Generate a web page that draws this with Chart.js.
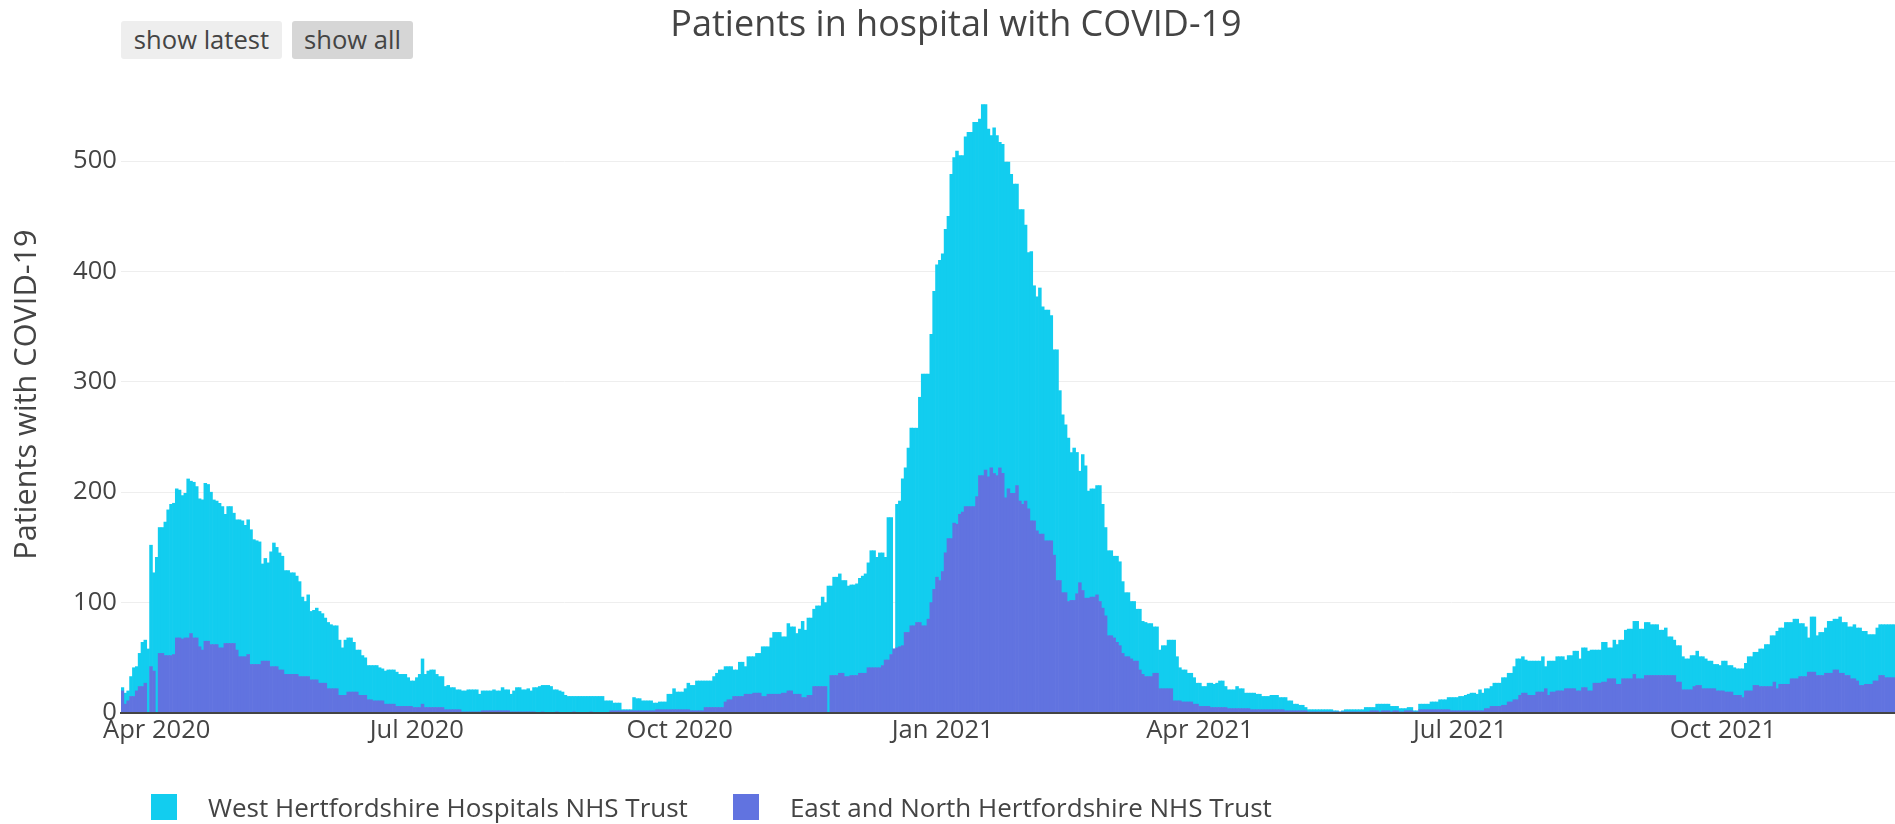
<!DOCTYPE html>
<html lang="en">
<head>
<meta charset="utf-8">
<title>Patients in hospital with COVID-19</title>
<script src="https://cdn.jsdelivr.net/npm/chart.js@4.4.1/dist/chart.umd.min.js"></script>
<style>
    html, body { margin: 0; padding: 0; background: #fff; }
    body { font-family: 'Open Sans', sans-serif; color: #444; }
    #wrap { position: relative; width: 1895px; height: 824px; overflow: hidden; }
    #chart-box { position: absolute; left: 0; top: 0; width: 1895px; height: 824px; }

    .menu-btn {
        position: absolute; top: 21px; height: 38px; padding: 0; border: none;
        border-radius: 3px; font: 25.6px 'Open Sans', sans-serif; line-height: 38px;
        color: #444; background: #eeeeee; cursor: pointer;
    }
    .menu-btn.active { background: #d6d6d6; }

    #title {
        position: absolute; top: 1px; left: 956px; transform: translateX(-50%);
        font-size: 36px; line-height: 44px; white-space: nowrap; color: #444;
    }

    #legend {
        position: absolute; left: 151px; top: 794px; height: 26px;
        display: flex; align-items: center; font-size: 26px; line-height: 26px;
        white-space: nowrap;
    }
    .legend-item { display: flex; align-items: center; margin-right: 45px; }
    .legend-swatch { width: 26px; height: 26px; margin-right: 31px; }
</style>
</head>
<body>
<div id="wrap">
    <div id="chart-box"><canvas id="hospitalChart"></canvas></div>
    <button class="menu-btn" style="left:121px;width:161px">show latest</button>
    <button class="menu-btn active" style="left:292px;width:121px">show all</button>
    <div id="title">Patients in hospital with COVID-19</div>
    <div id="legend"></div>
</div>

<script>
// =========================================================
// DATA (one bar per day, first bar = 20 Mar 2020)
// =========================================================

const eastNorth = [
    // Mar 2020 (20th-31st)
    20, 8, 11, 15, 15, 20, 24, 24, 27, 0, 42, 38,
    // Apr 2020
    0, 54, 54, 52, 52, 52, 53, 68, 68, 67, 68, 68, 72, 68, 68, 60, 57, 65, 65, 62, 62, 62, 59, 59, 63, 63, 63, 63, 57, 51,
    // May 2020
    51, 51, 53, 44, 44, 44, 44, 47, 47, 47, 42, 42, 42, 39, 39, 35, 35, 35, 35, 35, 33, 33, 33, 33, 30, 30, 30, 27, 27, 27, 22,
    // Jun 2020
    22, 22, 22, 16, 16, 16, 19, 19, 19, 19, 16, 16, 16, 12, 12, 11, 11, 11, 11, 8, 8, 8, 8, 6, 6, 6, 6, 6, 6, 5,
    // Jul 2020
    5, 5, 8, 5, 5, 5, 5, 5, 5, 5, 3, 3, 3, 3, 3, 3, 1, 1, 1, 1, 1, 1, 1, 2, 2, 2, 2, 2, 2, 2, 2,
    // Aug 2020
    2, 2, 1, 1, 1, 1, 1, 1, 1, 1, 1, 0, 0, 1, 0, 0, 0, 0, 1, 0, 0, 0, 0, 0, 1, 0, 0, 0, 0, 0, 1,
    // Sep 2020
    0, 0, 0, 0, 0, 0, 2, 2, 2, 2, 2, 2, 2, 2, 2, 2, 2, 2, 2, 2, 2, 2, 3, 3, 3, 3, 3, 3, 3, 3,
    // Oct 2020
    3, 3, 3, 3, 2, 2, 2, 2, 2, 5, 5, 5, 5, 5, 5, 5, 10, 12, 12, 15, 15, 15, 15, 17, 17, 17, 18, 18, 18, 15, 15,
    // Nov 2020
    17, 17, 17, 17, 17, 18, 18, 20, 20, 17, 17, 17, 14, 14, 16, 16, 24, 24, 24, 24, 24, 0, 34, 34, 34, 36, 36, 33, 33, 34,
    // Dec 2020
    34, 34, 36, 36, 36, 41, 41, 41, 41, 41, 43, 48, 48, 53, 58, 59, 60, 61, 73, 73, 79, 79, 82, 82, 79, 79, 85, 100, 112, 123, 120,
    // Jan 2021
    128, 145, 158, 158, 172, 171, 180, 182, 187, 187, 187, 187, 196, 215, 215, 220, 214, 222, 217, 215, 222, 217, 195, 203, 199, 199, 206, 192, 189, 192, 185,
    // Feb 2021
    174, 174, 165, 162, 162, 156, 156, 156, 143, 120, 120, 109, 109, 101, 102, 102, 108, 118, 111, 104, 104, 105, 105, 107, 101, 95, 88, 70,
    // Mar 2021
    70, 68, 64, 61, 54, 51, 51, 49, 47, 47, 39, 35, 33, 33, 33, 36, 36, 22, 22, 22, 22, 22, 11, 11, 11, 10, 10, 10, 10, 8, 8,
    // Apr 2021
    6, 6, 6, 6, 5, 5, 5, 5, 5, 5, 4, 4, 4, 4, 4, 4, 4, 4, 3, 3, 3, 3, 3, 3, 3, 3, 3, 3, 3, 3,
    // May 2021
    2, 2, 2, 2, 2, 2, 2, 2, 1, 1, 1, 1, 1, 1, 1, 1, 1, 1, 1, 1, 1, 1, 1, 1, 1, 1, 1, 1, 1, 1, 2,
    // Jun 2021
    2, 2, 1, 2, 2, 2, 1, 2, 2, 1, 1, 2, 2, 2, 1, 1, 3, 3, 3, 3, 3, 3, 3, 3, 3, 3, 3, 2, 2, 2,
    // Jul 2021
    2, 2, 2, 2, 2, 2, 2, 2, 2, 4, 4, 6, 6, 6, 6, 7, 7, 10, 10, 12, 12, 16, 18, 18, 16, 16, 16, 19, 19, 19, 22,
    // Aug 2021
    16, 19, 19, 20, 20, 20, 22, 22, 22, 22, 20, 20, 23, 23, 20, 20, 27, 27, 27, 28, 28, 31, 31, 31, 26, 26, 31, 31, 31, 31, 35,
    // Sep 2021
    31, 31, 31, 34, 34, 34, 34, 34, 34, 34, 34, 34, 34, 34, 28, 28, 21, 21, 21, 21, 24, 25, 25, 22, 22, 22, 22, 22, 20, 20,
    // Oct 2021
    20, 19, 19, 19, 16, 16, 16, 14, 20, 20, 20, 25, 25, 24, 24, 24, 24, 24, 28, 22, 26, 26, 26, 26, 31, 31, 31, 33, 33, 33, 37,
    // Nov 2021
    37, 37, 34, 34, 34, 36, 36, 36, 39, 39, 36, 36, 34, 34, 31, 31, 29, 25, 25, 26, 26, 26, 29, 29, 34, 34, 32, 32, 32, 32
];

const westHerts = [
    // Mar 2020 (20th-31st)
    3, 10, 9, 18, 26, 22, 30, 40, 39, 58, 110, 89,
    // Apr 2020
    141, 114, 114, 121, 132, 137, 137, 135, 134, 130, 131, 144, 138, 141, 137, 134, 136, 143, 142, 138, 131, 130, 131, 128, 117, 124, 124, 118, 118, 124,
    // May 2020
    123, 119, 122, 122, 113, 112, 111, 88, 93, 89, 104, 112, 108, 106, 103, 94, 94, 92, 92, 89, 86, 72, 68, 74, 62, 63, 65, 65, 63, 59, 60,
    // Jun 2020
    58, 57, 57, 50, 43, 50, 49, 49, 45, 38, 41, 36, 34, 31, 31, 32, 32, 30, 29, 30, 31, 31, 31, 31, 29, 29, 29, 26, 23, 24,
    // Jul 2020
    27, 30, 41, 30, 33, 34, 34, 30, 28, 28, 21, 22, 20, 20, 18, 18, 19, 19, 20, 20, 20, 20, 16, 18, 18, 18, 18, 19, 18, 18, 21,
    // Aug 2020
    19, 19, 16, 19, 22, 22, 20, 20, 21, 19, 22, 23, 24, 24, 25, 25, 24, 21, 20, 20, 19, 16, 15, 15, 14, 15, 15, 15, 15, 15, 14,
    // Sep 2020
    15, 15, 15, 15, 11, 11, 9, 7, 7, 7, 1, 1, 1, 1, 12, 11, 11, 9, 9, 9, 9, 7, 6, 7, 7, 7, 14, 14, 19, 16,
    // Oct 2020
    16, 16, 19, 24, 23, 23, 27, 27, 27, 24, 24, 24, 28, 31, 34, 34, 32, 30, 30, 24, 24, 31, 31, 25, 34, 34, 33, 36, 36, 45, 45,
    // Nov 2020
    43, 51, 56, 56, 56, 51, 51, 61, 58, 61, 55, 59, 69, 61, 70, 70, 70, 73, 73, 81, 76, 115, 81, 89, 89, 90, 84, 87, 82, 82,
    // Dec 2020
    82, 83, 86, 88, 90, 95, 106, 106, 100, 104, 102, 93, 129, 124, 0, 130, 132, 151, 149, 167, 179, 179, 176, 204, 228, 228, 222, 243, 270, 283, 290,
    // Jan 2021
    288, 293, 292, 330, 331, 338, 325, 323, 335, 339, 339, 348, 339, 323, 336, 331, 315, 301, 313, 308, 295, 298, 304, 296, 289, 280, 273, 264, 267, 250, 232,
    // Feb 2021
    244, 213, 212, 223, 206, 209, 209, 204, 186, 209, 172, 161, 152, 148, 134, 138, 128, 101, 123, 120, 97, 98, 98, 99, 105, 94, 80, 77,
    // Mar 2021
    77, 74, 78, 76, 65, 58, 58, 52, 54, 47, 55, 48, 49, 48, 48, 42, 42, 35, 39, 39, 44, 44, 55, 40, 30, 29, 29, 26, 26, 24, 19,
    // Apr 2021
    21, 18, 18, 21, 22, 21, 22, 24, 24, 19, 17, 17, 17, 20, 18, 18, 14, 14, 15, 15, 14, 14, 12, 12, 12, 13, 13, 13, 11, 11,
    // May 2021
    12, 9, 9, 6, 6, 5, 5, 3, 2, 2, 2, 2, 2, 2, 2, 2, 2, 1, 1, 0, 1, 2, 2, 2, 2, 2, 2, 2, 4, 4, 3,
    // Jun 2021
    3, 6, 7, 6, 6, 6, 5, 4, 4, 3, 3, 2, 3, 3, 1, 1, 5, 5, 5, 5, 7, 7, 7, 9, 9, 9, 11, 12, 12, 12,
    // Jul 2021
    13, 13, 14, 15, 16, 16, 15, 19, 16, 18, 18, 18, 21, 21, 21, 25, 25, 26, 26, 30, 37, 33, 33, 30, 31, 31, 31, 28, 28, 32, 20,
    // Aug 2021
    31, 28, 28, 31, 31, 31, 26, 30, 30, 34, 36, 29, 36, 36, 36, 37, 30, 30, 30, 36, 36, 28, 28, 35, 36, 40, 35, 44, 45, 45, 48,
    // Sep 2021
    52, 45, 45, 48, 48, 46, 46, 46, 41, 41, 43, 35, 35, 32, 33, 33, 30, 28, 28, 31, 28, 31, 26, 29, 27, 25, 25, 22, 24, 23,
    // Oct 2021
    27, 28, 24, 24, 25, 24, 24, 26, 25, 31, 31, 30, 30, 34, 34, 38, 38, 46, 42, 52, 51, 51, 56, 56, 51, 54, 54, 48, 48, 45, 31,
    // Nov 2021
    50, 50, 36, 39, 39, 41, 47, 47, 46, 46, 51, 46, 48, 44, 47, 49, 48, 52, 49, 48, 45, 45, 42, 48, 46, 46, 48, 48, 48, 48
];

// Ticks on the day axis (day number counted from 20 Mar 2020)
const tickDays   = [12, 103, 195, 287, 377, 468, 560];
const tickLabels = ['Apr 2020', 'Jul 2020', 'Oct 2020', 'Jan 2021', 'Apr 2021', 'Jul 2021', 'Oct 2021'];
const yTicks     = [0, 100, 200, 300, 400, 500];

// =========================================================
// STYLE
// =========================================================

const COR_WEST = '#12cdef';
const COR_EAST = '#6173e0';
const TEXT_COLOR = '#444';

Chart.defaults.font.family = "'Open Sans', sans-serif";
Chart.defaults.color = TEXT_COLOR;

// =========================================================
// CHART
// =========================================================

const dayIndex = eastNorth.map((_, i) => i);

const ctx = document.getElementById('hospitalChart').getContext('2d');

const hospitalChart = new Chart(ctx, {
    type: 'bar',
    data: {
        labels: dayIndex,
        datasets: [
            // first dataset sits at the bottom of the stack
            { label: 'East and North Hertfordshire NHS Trust', data: eastNorth, backgroundColor: COR_EAST },
            { label: 'West Hertfordshire Hospitals NHS Trust', data: westHerts, backgroundColor: COR_WEST }
        ]
    },
    options: {
        responsive: true,
        maintainAspectRatio: false,
        animation: false,
        layout: { padding: { top: 76, right: 0, bottom: 0, left: 0 } },
        datasets: {
            bar: { barPercentage: 1, categoryPercentage: 1, borderWidth: 0 }
        },
        plugins: {
            legend: { display: false },
            title: { display: false },
            tooltip: { enabled: false }
        },
        scales: {
            x: {
                type: 'linear',
                stacked: true,
                offset: false,
                min: -0.5,
                max: 620.2,
                grid: { display: false, drawTicks: false },
                border: { display: true, color: '#444', width: 2, z: 1 },
                ticks: {
                    autoSkip: false,
                    maxRotation: 0,
                    padding: 2,
                    font: { size: 25.6 },
                    callback: (value, index) => tickLabels[index]
                },
                afterBuildTicks: scale => { scale.ticks = tickDays.map(v => ({ value: v })); },
                afterFit: scale => { scale.height = 111; }
            },
            y: {
                stacked: true,
                min: 0,
                max: 577,
                grid: {
                    drawTicks: false,
                    lineWidth: 1,
                    // no light line at 0, the dark axis line is drawn there
                    color: c => (c.tick && c.tick.value === 0) ? 'rgba(0,0,0,0)' : '#eeeeee'
                },
                border: { display: false },
                ticks: {
                    padding: 4,
                    font: { size: 25.6 },
                    callback: v => String(v)
                },
                title: {
                    display: true,
                    text: 'Patients with COVID-19',
                    font: { size: 30.7 },
                    padding: { top: 9, bottom: 0 }
                },
                afterBuildTicks: scale => { scale.ticks = yTicks.map(v => ({ value: v })); },
                afterFit: scale => { scale.width = 121; }
            }
        }
    }
});

// =========================================================
// LEGEND (West first, as in the original)
// =========================================================

function buildLegend(chart) {
    const box = document.getElementById('legend');
    const sets = chart.data.datasets.slice().reverse();
    sets.forEach(ds => {
        const item = document.createElement('div');
        item.className = 'legend-item';
        const sw = document.createElement('span');
        sw.className = 'legend-swatch';
        sw.style.background = ds.backgroundColor;
        const txt = document.createElement('span');
        txt.textContent = ds.label;
        item.appendChild(sw);
        item.appendChild(txt);
        box.appendChild(item);
    });
}

buildLegend(hospitalChart);
</script>
</body>
</html>
